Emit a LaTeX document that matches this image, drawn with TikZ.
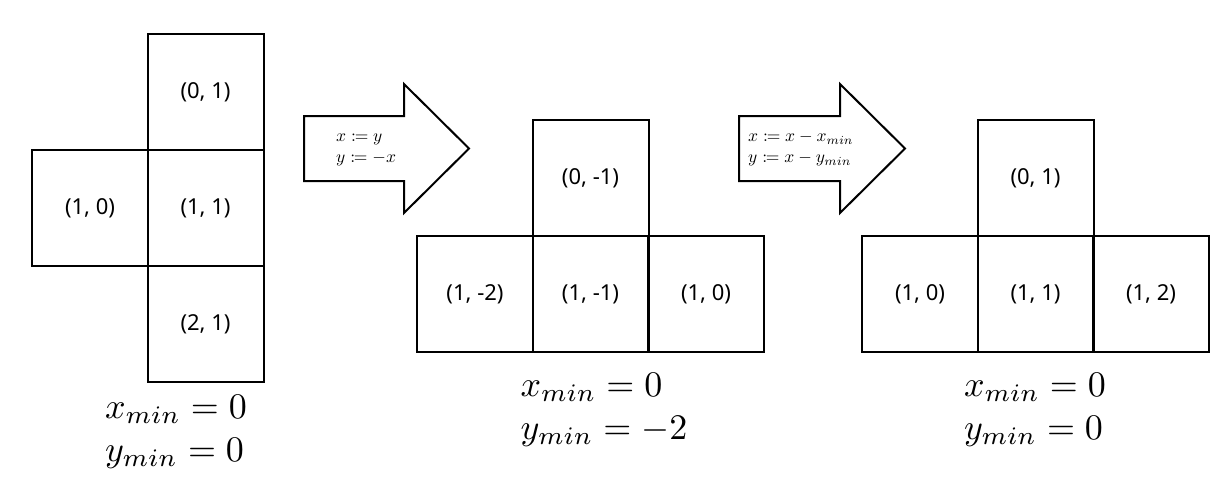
\documentclass[tikz,border=0pt]{standalone}
\usepackage{graphicx}
\usepackage{mathtools}
\usepackage[no-math]{fontspec}
\setmainfont{Noto Sans}
\newcommand{\twolines}[3]{\scalebox{#1}{$\begin{array}{@{}l@{}}#2\\#3\end{array}$}}
\begin{document}
\begin{tikzpicture}[x=1pt,y=-1pt,
  cell/.style={draw=black,line width=2pt,minimum width=116pt,minimum height=116pt,inner sep=0pt,font=\fontsize{22}{24}\selectfont},
  bigarrow/.style={draw=black,line width=2pt,fill=white,line join=miter},
  arrtext/.style={inner sep=0pt},
  eqtext/.style={inner sep=0pt}]
\useasboundingbox (0,0) rectangle (1218,488);
% left figure
\node[cell] (a01) at (205.5,92) {(0, 1)};
\node[cell] (a11) at (205.5,208) {(1, 1)};
\node[cell] (a21) at (205.5,324) {(2, 1)};
\node[cell] (a10) at (90,208) {(1, 0)};
\node[eqtext] (aeq) at (176,431) {\twolines{3.6}{x_{min}=0}{y_{min}=0}};
% arrow 1
\draw[bigarrow] (304,116) -- (404,116) -- (404,84) -- (469,148.5) -- (404,213) -- (404,181) -- (304,181) -- cycle;
\node[arrtext,anchor=west] (t1) at (336,148) {\twolines{1.75}{x\coloneqq y}{y\coloneqq -x}};
% middle figure
\node[cell] (b0m1) at (590.5,178) {(0, -1)};
\node[cell] (b1m2) at (475,294) {(1, -2)};
\node[cell] (b1m1) at (590.5,294) {(1, -1)};
\node[cell] (b10) at (706,294) {(1, 0)};
\node[eqtext] (beq) at (604,409) {\twolines{3.6}{x_{min}=0}{y_{min}=-2}};
% arrow 2
\draw[bigarrow] (739,116) -- (840,116) -- (840,84) -- (905,148.5) -- (840,213) -- (840,181) -- (739,181) -- cycle;
\node[arrtext,anchor=west] (t2) at (748,148) {\twolines{1.75}{x\coloneqq x-x_{min}}{y\coloneqq x-y_{min}}};
% right figure
\node[cell] (c01) at (1035.5,178) {(0, 1)};
\node[cell] (c10) at (920,294) {(1, 0)};
\node[cell] (c11) at (1035.5,294) {(1, 1)};
\node[cell] (c12) at (1151,294) {(1, 2)};
\node[eqtext] (ceq) at (1035,409) {\twolines{3.6}{x_{min}=0}{y_{min}=0}};
\end{tikzpicture}
\end{document}
